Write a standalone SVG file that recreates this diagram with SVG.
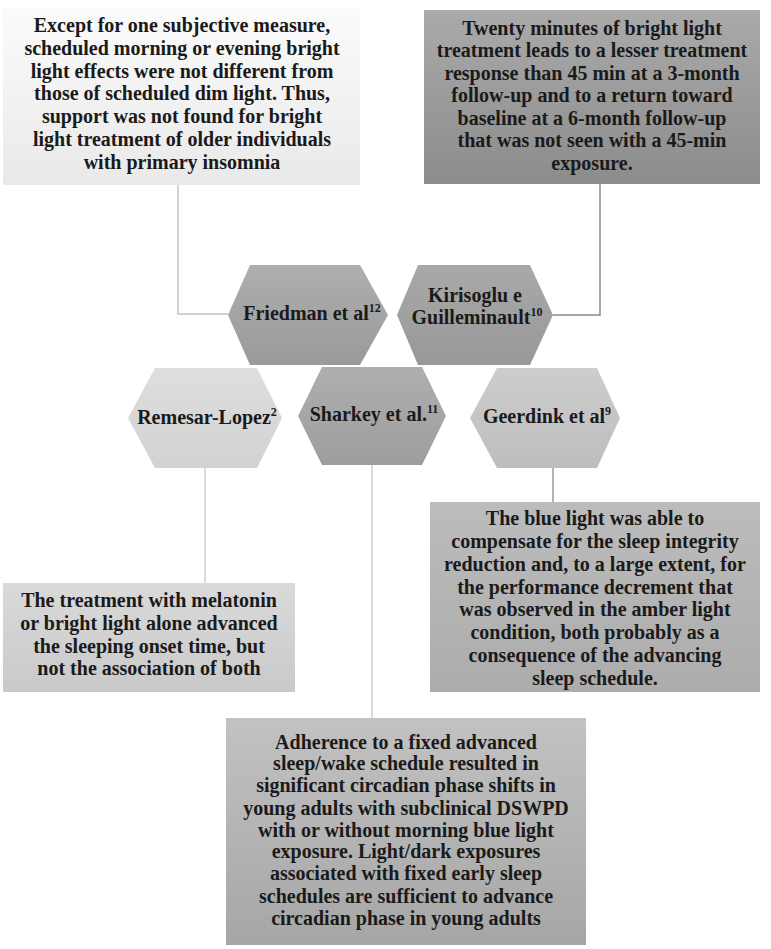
<svg xmlns="http://www.w3.org/2000/svg" width="771" height="949" viewBox="0 0 771 949">
<defs>
<linearGradient id="g1" x1="0" y1="0" x2="0" y2="1"><stop offset="0" stop-color="#fbfbfb"/><stop offset="1" stop-color="#e9e9e9"/></linearGradient>
<linearGradient id="g2" x1="0" y1="0" x2="0" y2="1"><stop offset="0" stop-color="#aaaaaa"/><stop offset="1" stop-color="#8c8c8c"/></linearGradient>
<linearGradient id="gF" x1="0" y1="0" x2="0" y2="1"><stop offset="0" stop-color="#aeaeae"/><stop offset="1" stop-color="#9a9a9a"/></linearGradient>
<linearGradient id="gK" x1="0" y1="0" x2="0" y2="1"><stop offset="0" stop-color="#a9a9a9"/><stop offset="1" stop-color="#989898"/></linearGradient>
<linearGradient id="gR" x1="0" y1="0" x2="0" y2="1"><stop offset="0" stop-color="#dedede"/><stop offset="1" stop-color="#d2d2d2"/></linearGradient>
<linearGradient id="gS" x1="0" y1="0" x2="0" y2="1"><stop offset="0" stop-color="#aeaeae"/><stop offset="1" stop-color="#9e9e9e"/></linearGradient>
<linearGradient id="gG" x1="0" y1="0" x2="0" y2="1"><stop offset="0" stop-color="#cdcdcd"/><stop offset="1" stop-color="#bdbdbd"/></linearGradient>
<linearGradient id="gRB" x1="0" y1="0" x2="0" y2="1"><stop offset="0" stop-color="#dadada"/><stop offset="1" stop-color="#c9c9c9"/></linearGradient>
<linearGradient id="gGB" x1="0" y1="0" x2="0" y2="1"><stop offset="0" stop-color="#bcbcbc"/><stop offset="1" stop-color="#acacac"/></linearGradient>
<linearGradient id="gSB" x1="0" y1="0" x2="0" y2="1"><stop offset="0" stop-color="#c2c2c2"/><stop offset="1" stop-color="#a6a6a6"/></linearGradient>
</defs>
<style>
text{font-family:"Liberation Serif","Times New Roman",serif;font-size:20px;font-weight:bold;fill:#1a1a1a;text-anchor:middle}
.sup{font-size:12px}
.c{fill:none;stroke-width:1.5}
</style>
<g id="connectors">
<path class="c" stroke="#c4c4c4" d="M178,185 V314 H228"/>
<path class="c" stroke="#8a8a8a" d="M600,184 V315 H553"/>
<path class="c" stroke="#cfcfcf" d="M205,468 V583"/>
<path class="c" stroke="#cfcfcf" d="M372,465 V718"/>
<path class="c" stroke="#9a9a9a" d="M553,468 V502"/>
</g>
<g id="box-friedman-finding">
<rect x="3" y="8" width="357" height="177" fill="url(#g1)"/>
<text x="182" y="32">Except for one subjective measure,</text>
<text x="182" y="55">scheduled morning or evening bright</text>
<text x="182" y="78">light effects were not different from</text>
<text x="182" y="100">those of scheduled dim light. Thus,</text>
<text x="182" y="123">support was not found for bright</text>
<text x="182" y="146">light treatment of older individuals</text>
<text x="182" y="169">with primary insomnia</text>
</g>
<g id="box-kirisoglu-finding">
<rect x="424" y="10" width="336" height="174" fill="url(#g2)"/>
<text x="592" y="35">Twenty minutes of bright light</text>
<text x="592" y="57">treatment leads to a lesser treatment</text>
<text x="592" y="80">response than 45 min at a 3-month</text>
<text x="592" y="102">follow-up and to a return toward</text>
<text x="592" y="125">baseline at a 6-month follow-up</text>
<text x="592" y="147">that was not seen with a 45-min</text>
<text x="592" y="170">exposure.</text>
</g>
<g id="hex-friedman">
<polygon points="228,315 250,265 360,265 388,315 360,365 250,365" fill="url(#gF)"/>
<text x="312" y="320">Friedman et al<tspan class="sup" dy="-8">12</tspan></text>
</g>
<g id="hex-kirisoglu">
<polygon points="397,315 418,265 530,265 553,315 530,365 418,365" fill="url(#gK)"/>
<text x="475" y="302">Kirisoglu e</text>
<text x="477" y="324">Guilleminault<tspan class="sup" dy="-8">10</tspan></text>
</g>
<g id="hex-remesar">
<polygon points="128,418 155,368 257,368 282,418 257,468 155,468" fill="url(#gR)"/>
<text x="207" y="424">Remesar-Lopez<tspan class="sup" dy="-8">2</tspan></text>
</g>
<g id="hex-sharkey">
<polygon points="298,416 322,367 422,367 446,416 422,465 322,465" fill="url(#gS)"/>
<text x="374" y="421">Sharkey et al.<tspan class="sup" dy="-8">11</tspan></text>
</g>
<g id="hex-geerdink">
<polygon points="470,418 497,368 597,368 620,418 597,468 497,468" fill="url(#gG)"/>
<text x="547" y="423">Geerdink et al<tspan class="sup" dy="-8">9</tspan></text>
</g>
<g id="box-remesar-finding">
<rect x="3" y="583" width="292" height="109" fill="url(#gRB)"/>
<text x="149" y="607">The treatment with melatonin</text>
<text x="149" y="630">or bright light alone advanced</text>
<text x="149" y="653">the sleeping onset time, but</text>
<text x="149" y="675">not the association of both</text>
</g>
<g id="box-geerdink-finding">
<rect x="430" y="502" width="330" height="190" fill="url(#gGB)"/>
<text x="595" y="525">The blue light was able to</text>
<text x="595" y="548">compensate for the sleep integrity</text>
<text x="595" y="571">reduction and, to a large extent, for</text>
<text x="595" y="594">the performance decrement that</text>
<text x="595" y="616">was observed in the amber light</text>
<text x="595" y="639">condition, both probably as a</text>
<text x="595" y="662">consequence of the advancing</text>
<text x="595" y="685">sleep schedule.</text>
</g>
<g id="box-sharkey-finding">
<rect x="226" y="718" width="360" height="227" fill="url(#gSB)"/>
<text x="406" y="749">Adherence to a fixed advanced</text>
<text x="406" y="770">sleep/wake schedule resulted in</text>
<text x="406" y="792">significant circadian phase shifts in</text>
<text x="406" y="815">young adults with subclinical DSWPD</text>
<text x="406" y="837">with or without morning blue light</text>
<text x="406" y="858">exposure. Light/dark exposures</text>
<text x="406" y="880">associated with fixed early sleep</text>
<text x="406" y="903">schedules are sufficient to advance</text>
<text x="406" y="925">circadian phase in young adults</text>
</g>
</svg>
